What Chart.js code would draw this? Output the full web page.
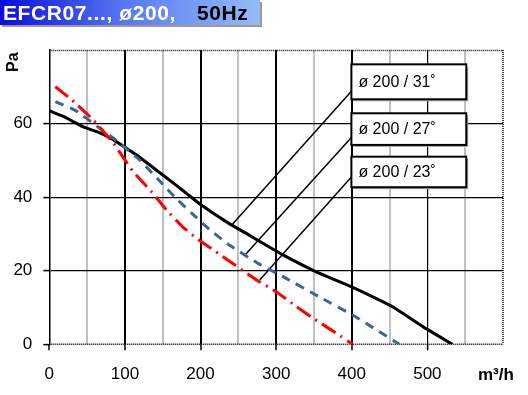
<!DOCTYPE html>
<html>
<head>
<meta charset="utf-8">
<script src="https://cdn.jsdelivr.net/npm/chart.js@4"></script>
<style>
    body { margin: 0; background: #fff; }
    #wrap { position: relative; width: 528px; height: 395px; font-family: Arial, "Liberation Sans", sans-serif; }
    #title {
        position: absolute; left: 0; top: 0; width: 260px; height: 25px;
        background: linear-gradient(to right, #0c0cdc, #5a7cf0 50%, #94bcf8);
        box-shadow: 2px 2px 0 #9a9a9a;
        font-weight: bold; font-size: 21px; line-height: 25px; white-space: pre; letter-spacing: 0.6px;
    }
    #title .w { position: absolute; left: 3px; color: #fff; }
    #title .k { position: absolute; left: 197px; color: #000; }
    #pa { position: absolute; left: 4px; top: 52px; font-weight: bold; font-size: 16px;
          transform: rotate(-90deg); transform-origin: 10px 10px; }
    #unit { position: absolute; left: 478px; top: 365px; font-weight: bold; font-size: 17px; }
    canvas { position: absolute; left: 0; top: 0; }
</style>
</head>
<body>
<div id="wrap">
    <canvas id="chart" width="528" height="395"></canvas>
    <div id="title"><span class="w">EFCR07..., ø200,</span><span class="k">50Hz</span></div>
    <div id="pa">Pa</div>
    <div id="unit">m³/h</div>
</div>
<script>
// ======================================
// Data (airflow m³/h -> pressure Pa)
// ======================================
const flow31 = [0, 18, 45, 67, 84, 101, 120, 140, 168, 181, 200, 238, 265, 274, 309, 353, 399, 432, 454, 494, 533];
const pa31   = [63.5, 62, 59.1, 57.5, 55.7, 53.4, 50.8, 47.6, 43.2, 41.1, 38, 32.8, 29.6, 28.5, 24.3, 19.7, 15.7, 12.5, 10.2, 4.8, 0];

const flow27 = [8, 35, 67, 85, 120, 150, 168, 190, 212, 238, 276, 309, 357, 405, 432, 463];
const pa27   = [66, 63.5, 58.7, 56, 50, 43.5, 39.6, 35.3, 31.2, 27, 22, 18.4, 12.9, 7.5, 4, 0];

const flow23 = [8, 30, 58, 85, 110, 135, 155, 176, 195, 220, 250, 274, 300, 326, 348, 379, 401];
const pa23   = [70, 66.4, 61, 54.6, 47.2, 41.5, 36.5, 32, 28.8, 25.2, 20.9, 17.5, 14.3, 10.4, 7.2, 3.1, 0];

const xTicks = [0, 100, 200, 300, 400, 500];
const yTicks = [0, 20, 40, 60];

// curve labels: text, box (x1, x2, yTop, yBottom), leader (start -> end on curve)
const labelTexts  = ["ø 200 / 31˚", "ø 200 / 27˚", "ø 200 / 23˚"];
const labelBoxX   = [399.5, 551.4];
const labelBoxY   = [[76.1, 66.6], [62.8, 54.2], [51, 42.7]];
const leaderFrom  = [[399.5, 68.8], [399.5, 56.2], [399.5, 45.5]];
const leaderTo    = [[241.3, 32.4], [259.4, 24.4], [278.3, 17.5]];

function toPoints(xs, ys) {
    return xs.map((x, i) => ({x: x, y: ys[i]}));
}

// ======================================
// Plugins
// ======================================
const frameAndLabels = {
    id: "frameAndLabels",
    beforeDatasetsDraw(chart) {
        const {ctx, chartArea: a} = chart;
        ctx.save();
        ctx.strokeStyle = "#000";
        ctx.lineWidth = 1.5;
        ctx.setLineDash([1, 1]);
        ctx.beginPath();
        ctx.moveTo(a.left, a.top + 0.5); ctx.lineTo(a.right, a.top + 0.5);
        ctx.moveTo(a.right, a.top); ctx.lineTo(a.right, a.bottom);
        ctx.moveTo(a.left, a.bottom); ctx.lineTo(a.right, a.bottom);
        ctx.stroke();
        ctx.restore();
    },
    afterDatasetsDraw(chart) {
        const {ctx, scales: {x, y}} = chart;
        ctx.save();
        labelTexts.forEach((txt, i) => {
            const x1 = x.getPixelForValue(labelBoxX[0]);
            const x2 = x.getPixelForValue(labelBoxX[1]);
            const y1 = y.getPixelForValue(labelBoxY[i][0]);
            const y2 = y.getPixelForValue(labelBoxY[i][1]);
            ctx.fillStyle = "#a8a8a8";
            ctx.fillRect(x1 + 2, y1 + 2, x2 - x1, y2 - y1);
            ctx.fillStyle = "#fff";
            ctx.fillRect(x1, y1, x2 - x1, y2 - y1);
            ctx.strokeStyle = "#000";
            ctx.lineWidth = 2;
            ctx.strokeRect(x1, y1, x2 - x1, y2 - y1);
            ctx.fillStyle = "#000";
            ctx.font = "16px Arial, 'Liberation Sans', sans-serif";
            ctx.textBaseline = "middle";
            ctx.fillText(txt, x1 + 7, (y1 + y2) / 2 + 1);
        });
        ctx.restore();
    }
};

// ======================================
// Chart
// ======================================
const leaderSets = leaderFrom.map((p, i) => ({
    data: [{x: p[0], y: p[1]}, {x: leaderTo[i][0], y: leaderTo[i][1]}],
    borderColor: "#000",
    borderWidth: 1.5,
    pointRadius: 0
}));

const tickFont = {size: 17, family: "Arial, 'Liberation Sans', sans-serif"};

new Chart(document.getElementById("chart"), {
    type: "line",
    data: {
        datasets: [
            {
                label: "ø 200 / 23˚",
                data: toPoints(flow23, pa23),
                borderColor: "#ff0000",
                borderWidth: 3,
                borderDash: [16, 6, 2, 6],
                pointRadius: 0,
                tension: 0.15
            },
            {
                label: "ø 200 / 27˚",
                data: toPoints(flow27, pa27),
                borderColor: "#3d6494",
                borderWidth: 3,
                borderDash: [9, 7],
                pointRadius: 0,
                tension: 0.15
            },
            {
                label: "ø 200 / 31˚",
                data: toPoints(flow31, pa31),
                borderColor: "#000",
                borderWidth: 3,
                pointRadius: 0,
                tension: 0.15
            },
            ...leaderSets
        ]
    },
    options: {
        responsive: false,
        animation: false,
        layout: {padding: {left: 0, top: 50, right: 25, bottom: 0}},
        plugins: {legend: {display: false}, tooltip: {enabled: false}},
        scales: {
            x: {
                type: "linear",
                min: 0,
                max: 600,
                afterFit: s => { s.height = 50.7; },
                border: {display: false},
                ticks: {
                    stepSize: 50,
                    padding: 14,
                    color: "#000",
                    font: tickFont,
                    maxRotation: 0,
                    autoSkip: false,
                    callback: v => xTicks.includes(v) ? String(v) : ""
                },
                grid: {
                    tickLength: 6,
                    tickWidth: 1.5,
                    tickColor: c => xTicks.includes(c.tick.value) ? "#000" : "transparent",
                    color: c => {
                        const v = c.tick.value;
                        if (v === 0 || v === 600) return "transparent";
                        return v % 100 === 0 ? "#000" : "#c0c0c0";
                    },
                    lineWidth: c => (c.tick.value === 500 ? 1.2 : 2)
                }
            },
            y: {
                min: 0,
                max: 80,
                afterFit: s => { s.width = 49.3; },
                border: {display: true, color: "#000", width: 1.5},
                ticks: {
                    stepSize: 20,
                    padding: 11,
                    color: "#000",
                    font: tickFont,
                    callback: v => yTicks.includes(v) ? String(v) : ""
                },
                grid: {
                    tickLength: 6,
                    tickWidth: 1.5,
                    tickColor: c => yTicks.includes(c.tick.value) ? "#000" : "transparent",
                    color: c => (c.tick.value === 0 || c.tick.value === 80) ? "transparent" : "#000",
                    lineWidth: 1.2
                }
            }
        }
    },
    plugins: [frameAndLabels]
});
</script>
</body>
</html>
